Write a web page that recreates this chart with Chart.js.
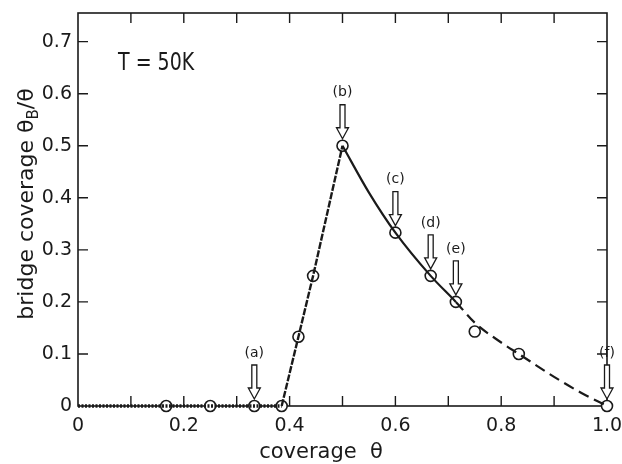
<!DOCTYPE html>
<html>
<head>
<meta charset="utf-8">
<script src="https://cdn.jsdelivr.net/npm/chart.js@4.4.1/dist/chart.umd.min.js"></script>
<style>
  html, body { margin: 0; padding: 0; background: #fff; }
  #wrap { width: 622px; height: 464px; }
</style>
</head>
<body>
<div id="wrap"><canvas id="coverageChart"></canvas></div>
<script>
// circles
const pointX = [0.1667, 0.25, 0.3333, 0.385, 0.4167, 0.4444, 0.5, 0.6, 0.6667, 0.7143, 0.75, 0.8333, 1.0];
const pointY = [0, 0, 0, 0, 0.133, 0.25, 0.5, 0.333, 0.25, 0.2, 0.143, 0.1, 0];

// left branch: flat then straight rise to the peak
const riseX = [0, 0.385, 0.4167, 0.4444, 0.5];
const riseY = [0, 0, 0.133, 0.25, 0.5];

// right branch: smooth fall, dashed after (e)
const fallX = [0.5, 0.55, 0.6, 0.6667, 0.7143, 0.75, 0.8, 0.8333, 0.9, 0.95, 1.0];
const fallY = [0.5, 0.41, 0.333, 0.25, 0.2, 0.16, 0.122, 0.1, 0.056, 0.026, 0];
const dashFrom = 0.7143;

// labelled arrows
const arrowLabels = ['(a)', '(b)', '(c)', '(d)', '(e)', '(f)'];
const arrowX = [0.3333, 0.5, 0.6, 0.6667, 0.7143, 1.0];
const arrowY = [0, 0.5, 0.333, 0.25, 0.2, 0];

// axes
const xTicks = [0, 0.2, 0.4, 0.6, 0.8, 1.0];
const xTickLabels = ['0', '0.2', '0.4', '0.6', '0.8', '1.0'];
const xMinor = [0.1, 0.2, 0.3, 0.4, 0.5, 0.6, 0.7, 0.8, 0.9];
const yTicks = [0, 0.1, 0.2, 0.3, 0.4, 0.5, 0.6, 0.7];
const yTickLabels = ['0', '0.1', '0.2', '0.3', '0.4', '0.5', '0.6', '0.7'];
const yMinor = [0.1, 0.2, 0.3, 0.4, 0.5, 0.6, 0.7];

const INK = '#1a1a1a';
const FONT = 'DejaVu Sans';

const toXY = (xs, ys) => xs.map((x, i) => ({ x: x, y: ys[i] }));

// frame + inward ticks on all four sides
const framePlugin = {
  id: 'frame',
  beforeDatasetsDraw(chart) {
    const { ctx, chartArea: a, scales } = chart;
    const len = 10;
    ctx.save();
    ctx.strokeStyle = INK;
    ctx.lineWidth = 1.6;
    ctx.strokeRect(a.left, a.top, a.right - a.left, a.bottom - a.top);
    ctx.lineWidth = 1.4;
    ctx.beginPath();
    xMinor.forEach(v => {
      const px = scales.x.getPixelForValue(v);
      ctx.moveTo(px, a.bottom); ctx.lineTo(px, a.bottom - len);
      ctx.moveTo(px, a.top); ctx.lineTo(px, a.top + len);
    });
    yMinor.forEach(v => {
      const py = scales.y.getPixelForValue(v);
      ctx.moveTo(a.left, py); ctx.lineTo(a.left + len, py);
      ctx.moveTo(a.right, py); ctx.lineTo(a.right - len, py);
    });
    ctx.stroke();
    ctx.restore();
  }
};

// arrows, labels, titles, temperature note
const notesPlugin = {
  id: 'notes',
  afterDatasetsDraw(chart) {
    const { ctx, scales } = chart;
    ctx.save();
    ctx.strokeStyle = INK;
    ctx.fillStyle = INK;
    ctx.lineWidth = 1.3;

    arrowX.forEach((v, i) => {
      const px = scales.x.getPixelForValue(v);
      const py = scales.y.getPixelForValue(arrowY[i]);
      const top = py - 41, base = py - 18, tip = py - 7;
      ctx.beginPath();
      ctx.moveTo(px - 2.5, top);
      ctx.lineTo(px - 2.5, base);
      ctx.lineTo(px - 6, base);
      ctx.lineTo(px, tip);
      ctx.lineTo(px + 6, base);
      ctx.lineTo(px + 2.5, base);
      ctx.lineTo(px + 2.5, top);
      ctx.closePath();
      ctx.fillStyle = '#fff';
      ctx.fill();
      ctx.stroke();
      ctx.fillStyle = INK;
      ctx.font = '14px ' + FONT;
      ctx.textAlign = 'center';
      ctx.textBaseline = 'middle';
      ctx.fillText(arrowLabels[i], px, py - 53);
    });

    // T = 50K
    ctx.save();
    ctx.translate(118, 70);
    ctx.scale(1, 1.35);
    ctx.font = '19px ' + FONT;
    ctx.textAlign = 'left';
    ctx.textBaseline = 'alphabetic';
    ctx.fillText('T = 50K', 0, 0);
    ctx.restore();

    // x title
    ctx.font = '21px ' + FONT;
    ctx.textAlign = 'center';
    ctx.textBaseline = 'alphabetic';
    ctx.fillText('coverage  \u03b8', 321, 458);

    // y title with subscript B
    ctx.save();
    ctx.translate(33, 204);
    ctx.rotate(-Math.PI / 2);
    const main = 'bridge coverage \u03b8';
    ctx.font = '22px ' + FONT;
    const w1 = ctx.measureText(main).width;
    ctx.font = '15px ' + FONT;
    const w2 = ctx.measureText('B').width;
    ctx.font = '22px ' + FONT;
    const w3 = ctx.measureText('/\u03b8').width;
    let x0 = -(w1 + w2 + w3) / 2;
    ctx.textAlign = 'left';
    ctx.fillText(main, x0, 0);
    ctx.font = '15px ' + FONT;
    ctx.fillText('B', x0 + w1, 5);
    ctx.font = '22px ' + FONT;
    ctx.fillText('/\u03b8', x0 + w1 + w2, 0);
    ctx.restore();

    ctx.restore();
  }
};

const ctx = document.getElementById('coverageChart');

new Chart(ctx, {
  type: 'scatter',
  data: {
    datasets: [
      {
        type: 'line',
        data: toXY(riseX, riseY),
        borderColor: INK,
        borderWidth: 2.4,
        pointRadius: 0,
        tension: 0,
        clip: false,
        segment: {
          borderDash: c => c.p0.parsed.y === 0 && c.p1.parsed.y === 0 ? [2, 1.5] : [7, 1.5],
          borderWidth: c => c.p0.parsed.y === 0 && c.p1.parsed.y === 0 ? 3.6 : 2.4
        }
      },
      {
        type: 'line',
        data: toXY(fallX, fallY),
        borderColor: INK,
        borderWidth: 2.2,
        pointRadius: 0,
        cubicInterpolationMode: 'monotone',
        clip: false,
        segment: {
          borderDash: c => c.p0.parsed.x >= dashFrom - 0.001 ? [11, 6] : undefined
        }
      },
      {
        data: toXY(pointX, pointY),
        pointRadius: 5.5,
        pointBorderWidth: 1.6,
        pointBackgroundColor: '#fff',
        pointBorderColor: INK,
        clip: false
      }
    ]
  },
  options: {
    responsive: true,
    maintainAspectRatio: false,
    animation: false,
    layout: { padding: { top: 13, right: 15, left: 0, bottom: 0 } },
    plugins: {
      legend: { display: false },
      tooltip: { enabled: false }
    },
    scales: {
      x: {
        type: 'linear',
        min: 0,
        max: 1,
        grid: { display: false, drawTicks: false },
        border: { display: false },
        afterBuildTicks: s => { s.ticks = xTicks.map(v => ({ value: v })); },
        afterFit: s => { s.height = 58; s.paddingLeft = 0; s.paddingRight = 0; },
        ticks: {
          padding: 9,
          color: INK,
          font: { family: FONT, size: 19 },
          maxRotation: 0,
          callback: (v, i) => xTickLabels[i]
        }
      },
      y: {
        type: 'linear',
        min: 0,
        max: 0.755,
        grid: { display: false, drawTicks: false },
        border: { display: false },
        afterBuildTicks: s => { s.ticks = yTicks.map(v => ({ value: v })); },
        afterFit: s => { s.width = 78; s.paddingTop = 0; s.paddingBottom = 0; },
        ticks: {
          padding: 6,
          color: INK,
          font: { family: FONT, size: 19 },
          callback: (v, i) => yTickLabels[i]
        }
      }
    }
  },
  plugins: [framePlugin, notesPlugin]
});
</script>
</body>
</html>
